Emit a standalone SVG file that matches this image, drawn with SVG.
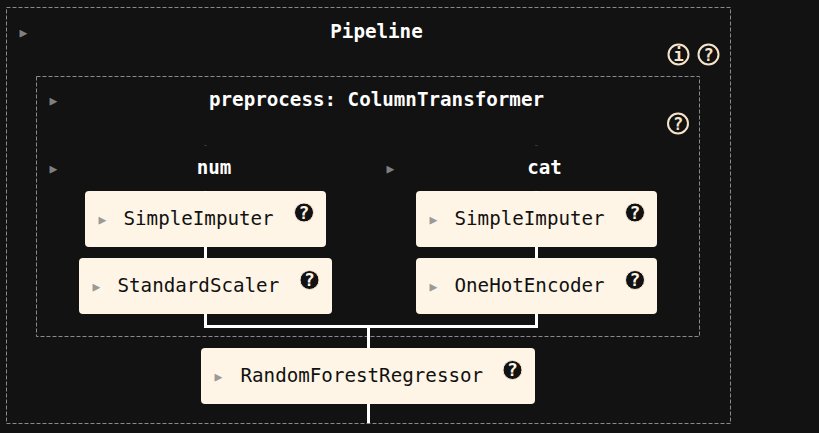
<svg xmlns="http://www.w3.org/2000/svg" width="819" height="433" viewBox="0 0 819 433">
<style>
text{font-family:"DejaVu Sans Mono",monospace}
.frame{fill:none;stroke:#8a8a8a;stroke-width:1;stroke-dasharray:4 2}
.title{fill:#fff;font-size:19.2px;font-weight:700;text-anchor:middle}
.label{fill:#111;font-size:19.2px}
.box{fill:#fff5e6}
.tri{fill:#9a9a9a;font-size:13px}
.tril{fill:#7f7f7f;font-size:13px}
.conn{fill:none;stroke:#fff;stroke-width:3}
.ring{fill:#121212;stroke:#f6e3cb;stroke-width:2}
.ringt{fill:#f6e3cb;font-size:17px;font-weight:700;text-anchor:middle}
.dot{fill:#121212;stroke:#fbe9d6;stroke-width:1}
.dott{fill:#fff5e6;font-size:18px;font-weight:700;text-anchor:middle}
</style>
<rect width="819" height="433" fill="#121212"/>
<g id="pipeline"><rect class="frame" x="6.5" y="7.5" width="724" height="416"/>
<text class="tril" x="19.500" y="36.500">▶</text>
<text class="title" x="376.500" y="38">Pipeline</text>
<circle class="ring" cx="678.500" cy="54.500" r="10"/><text class="ringt" x="678.500" y="60.500">i</text>
<circle class="ring" cx="708.500" cy="54.500" r="10"/><text class="ringt" x="708.500" y="60.500">?</text></g>
<g id="preprocess"><rect class="frame" x="36.5" y="76.500" width="663" height="260"/>
<text class="tril" x="49.500" y="104.500">▶</text>
<text class="title" x="376.500" y="106">preprocess: ColumnTransformer</text>
<circle class="ring" cx="678" cy="123.500" r="10"/><text class="ringt" x="678" y="129.500">?</text></g>
<g id="num"><text class="tril" x="49.500" y="172.500">▶</text><text class="title" x="214" y="174">num</text></g>
<g id="cat"><text class="tril" x="386.500" y="172.500">▶</text><text class="title" x="544.500" y="174">cat</text></g>
<g id="num-imputer"><rect class="box" x="85" y="191" width="241" height="56" rx="4"/>
<text class="tri" x="98.500" y="223.500">▶</text><text class="label" x="123.500" y="225">SimpleImputer</text>
<circle class="dot" cx="304" cy="212.500" r="9.500"/><text class="dott" x="304" y="218.500">?</text></g>
<g id="num-scaler"><rect class="box" x="79" y="258" width="253" height="56" rx="4"/>
<text class="tri" x="92.500" y="290.500">▶</text><text class="label" x="117.500" y="292">StandardScaler</text>
<circle class="dot" cx="309.500" cy="280" r="9.500"/><text class="dott" x="309.500" y="286">?</text></g>
<g id="cat-imputer"><rect class="box" x="416" y="191" width="241" height="56" rx="4"/>
<text class="tri" x="429.500" y="223.500">▶</text><text class="label" x="454.500" y="225">SimpleImputer</text>
<circle class="dot" cx="635" cy="212.500" r="9.500"/><text class="dott" x="635" y="218.500">?</text></g>
<g id="cat-encoder"><rect class="box" x="416" y="258" width="241" height="56" rx="4"/>
<text class="tri" x="429.500" y="290.500">▶</text><text class="label" x="454.500" y="292">OneHotEncoder</text>
<circle class="dot" cx="635" cy="280" r="9.500"/><text class="dott" x="635" y="286">?</text></g>
<g id="regressor"><rect class="box" x="201" y="348" width="334" height="56" rx="4"/>
<text class="tri" x="214.500" y="380.500">▶</text><text class="label" x="240.500" y="382">RandomForestRegressor</text>
<circle class="dot" cx="512.500" cy="370" r="9.500"/><text class="dott" x="512.500" y="376">?</text></g>
<g id="connectors">
<path class="conn" d="M205.500 247V258M205.500 314V326.500H536.500V314M536.500 247V258M368.500 326.500V348M368.500 404V423"/>
<path d="M204 145.500H207M535 145.500H538" stroke="#333" fill="none"/>
<path d="M204 191.500H207M535 191.500H538" stroke="#fff" fill="none"/>
</g>
</svg>
